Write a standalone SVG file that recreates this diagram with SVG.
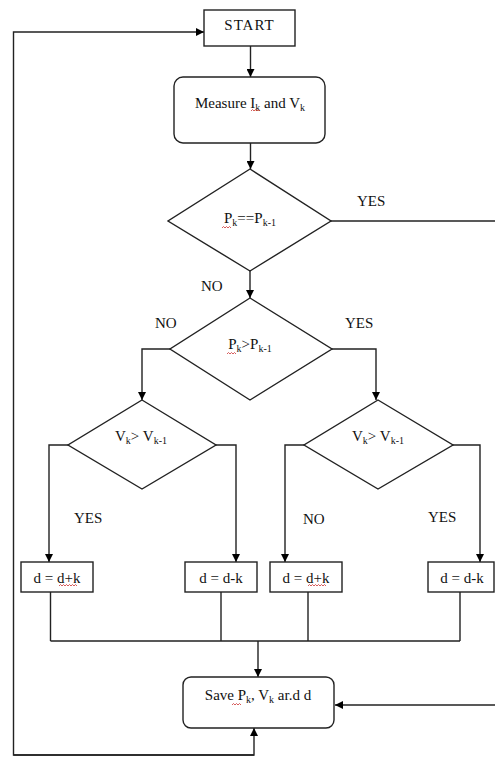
<svg xmlns="http://www.w3.org/2000/svg" width="495" height="757" viewBox="0 0 495 757" font-family="'Liberation Serif', 'Times New Roman', serif">
<defs>
<marker id="ah" viewBox="0 0 10 10" refX="10" refY="5" markerWidth="8" markerHeight="8" markerUnits="userSpaceOnUse" orient="auto">
<path d="M0,0 L10,5 L0,10 z" fill="#000"/>
</marker>
</defs>
<style>
.s{fill:#fff;stroke:#222;stroke-width:1.4}
.c{fill:none;stroke:#222;stroke-width:1.4}
.a{marker-end:url(#ah)}
text{font-family:'Liberation Serif','Times New Roman',serif;font-size:15px;fill:#111}
.sub{font-size:10px}
.sq{fill:none;stroke:#c33;stroke-width:0.8}
</style>
<rect width="495" height="757" fill="#fff"/>
<g id="connectors">
<path class="c a" d="M250.5,46 V77"/>
<path class="c a" d="M250.5,143 V169"/>
<path class="c" d="M331,221 H495"/>
<path class="c a" d="M250,271 V298"/>
<path class="c a" d="M170,349 H142 V400"/>
<path class="c a" d="M332,349 H376 V400"/>
<path class="c a" d="M68,445 H49 V562"/>
<path class="c a" d="M216,445 H236 V562"/>
<path class="c a" d="M304,445 H285 V562"/>
<path class="c a" d="M453,445 H480 V562"/>
<path class="c" d="M50.5,592 V641 M221,592 V641 M308,592 V641 M460,592 V641 M50.5,641 H460"/>
<path class="c a" d="M258,641 V677"/>
<path class="c a" d="M495,705 H335"/>
<path class="c a" d="M254,755 H13.5 V32 H204"/>
<path class="c a" d="M13.5,755 H254 V728"/>
</g>
<g id="start">
<rect class="s" x="204" y="10" width="91" height="36"/>
<text x="249.5" y="30" text-anchor="middle" letter-spacing="1">START</text>
</g>
<g id="measure">
<rect class="s" x="174" y="77" width="151" height="66" rx="9"/>
<text x="250" y="108" text-anchor="middle">Measure I<tspan class="sub" dy="3">k</tspan><tspan dy="-3"> and V</tspan><tspan class="sub" dy="3">k</tspan></text>
<path class="sq" d="M251,111 l1.5,-1.5 l1.5,1.5 l1.5,-1.5 l1.5,1.5 l1.5,-1.5 l1.5,1.5"/>
</g>
<g id="d1">
<polygon class="s" points="250,169 331,221 250,271 168,221"/>
<text x="250" y="223" text-anchor="middle">P<tspan class="sub" dy="3">k</tspan><tspan dy="-3">==P</tspan><tspan class="sub" dy="3">k-1</tspan></text>
<path class="sq" d="M222,228 l1.5,-1.5 l1.5,1.5 l1.5,-1.5 l1.5,1.5 l1.5,-1.5 l1.5,1.5"/>
</g>
<g id="d2">
<polygon class="s" points="250,298 332,349 250,400 170,349"/>
<text x="250" y="349" text-anchor="middle">P<tspan class="sub" dy="3">k</tspan><tspan dy="-3">&gt;P</tspan><tspan class="sub" dy="3">k-1</tspan></text>
<path class="sq" d="M227,354 l1.5,-1.5 l1.5,1.5 l1.5,-1.5 l1.5,1.5 l1.5,-1.5 l1.5,1.5"/>
</g>
<g id="d3">
<polygon class="s" points="142,400 216,445 142,489 68,445"/>
<text x="141" y="441" text-anchor="middle">V<tspan class="sub" dy="3">k</tspan><tspan dy="-3">&gt; V</tspan><tspan class="sub" dy="3">k-1</tspan></text>
</g>
<g id="d4">
<polygon class="s" points="378,400 453,445 378,489 304,445"/>
<text x="378" y="441" text-anchor="middle">V<tspan class="sub" dy="3">k</tspan><tspan dy="-3">&gt; V</tspan><tspan class="sub" dy="3">k-1</tspan></text>
</g>
<g id="b1">
<rect class="s" x="21" y="562" width="72" height="30"/>
<text x="57" y="583" text-anchor="middle">d = d+k</text>
<path class="sq" d="M59,586 l1.5,-1.5 l1.5,1.5 l1.5,-1.5 l1.5,1.5 l1.5,-1.5 l1.5,1.5 l1.5,-1.5 l1.5,1.5 l1.5,-1.5 l1.5,1.5 l1.5,-1.5 l1.5,1.5"/>
</g>
<g id="b2">
<rect class="s" x="185" y="562" width="72" height="30"/>
<text x="221" y="583" text-anchor="middle">d = d-k</text>
</g>
<g id="b3">
<rect class="s" x="270" y="562" width="72" height="30"/>
<text x="306" y="583" text-anchor="middle">d = d+k</text>
<path class="sq" d="M308,586 l1.5,-1.5 l1.5,1.5 l1.5,-1.5 l1.5,1.5 l1.5,-1.5 l1.5,1.5 l1.5,-1.5 l1.5,1.5 l1.5,-1.5 l1.5,1.5 l1.5,-1.5 l1.5,1.5"/>
</g>
<g id="b4">
<rect class="s" x="428" y="562" width="66" height="30"/>
<text x="462" y="583" text-anchor="middle">d = d-k</text>
</g>
<g id="save">
<rect class="s" x="183" y="677" width="151" height="51" rx="8"/>
<text x="258" y="700" text-anchor="middle">Save P<tspan class="sub" dy="3">k</tspan><tspan dy="-3">, V</tspan><tspan class="sub" dy="3">k</tspan><tspan dy="-3"> ar.d d</tspan></text>
<path class="sq" d="M232,705 l1.5,-1.5 l1.5,1.5 l1.5,-1.5 l1.5,1.5 l1.5,-1.5 l1.5,1.5"/>
</g>
<g id="labels">
<text x="357" y="206">YES</text>
<text x="201" y="291">NO</text>
<text x="155" y="328">NO</text>
<text x="345" y="328">YES</text>
<text x="74" y="523">YES</text>
<text x="303" y="524">NO</text>
<text x="428" y="522">YES</text>
</g>
</svg>
